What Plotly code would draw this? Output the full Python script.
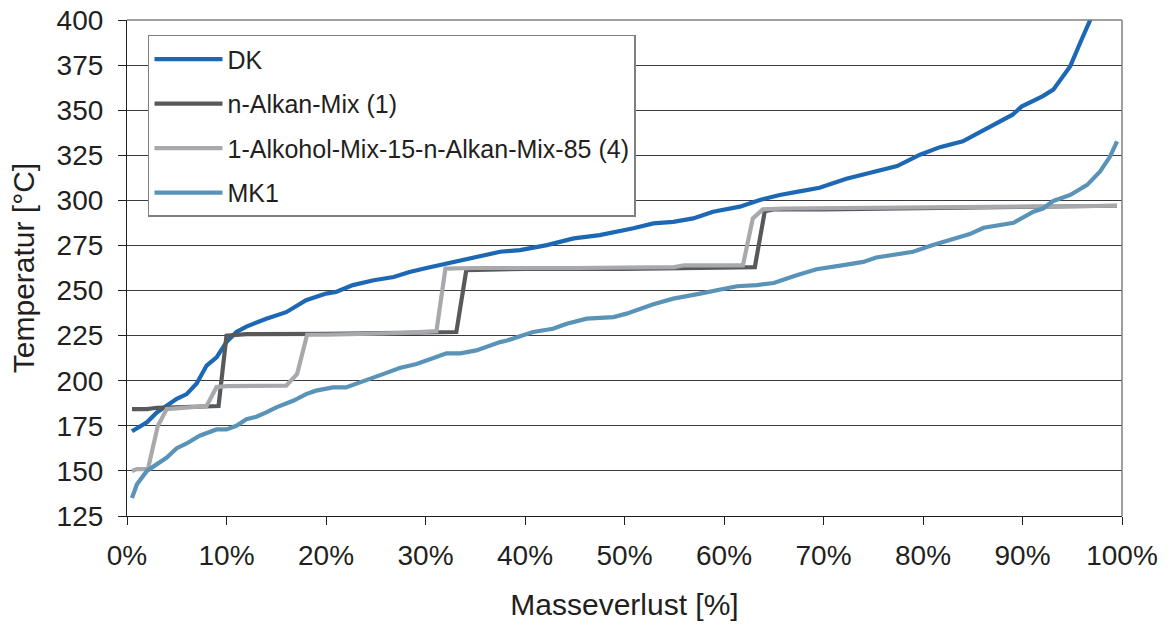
import plotly.graph_objects as go

# ---- data ----
dk_x = [0.5, 2, 3, 4, 5, 6, 7, 8, 9, 10, 11, 12, 14, 16, 18, 20, 21, 22.7, 24.8, 26.8,
        28.4, 30.1, 32.1, 34.1, 36.1, 37.5, 39.5, 42.2, 44.9, 47.5, 50.9, 52.9, 54.9, 56.9,
        58.9, 61.6, 63.6, 65.6, 67.6, 69.6, 72.3, 75.7, 77.4, 79.7, 81.7, 84, 86.4, 89, 89.9,
        91, 92, 93.1, 94.8, 95.8, 96.8, 97.6]
dk_y = [172, 177, 182.4, 186, 190, 192.6, 198.5, 208.4, 213, 221.4, 227, 230, 234.4, 238,
        244.6, 248.3, 249.2, 253, 255.7, 257.5, 260.3, 262.5, 265, 267.3, 269.5, 271.5, 272.4,
        275.2, 278.9, 280.7, 284.5, 287.2, 288.1, 290, 293.7, 296.5, 300.2, 303, 305, 307,
        312, 317, 319, 325.3, 329.5, 332.7, 340, 347.5, 352, 355, 357.7, 361.4, 374.4, 387.4,
        399.4, 410]

alkan_x = [0.5, 2, 3, 9, 9.2, 10, 12, 20, 32, 33.1, 34.1, 40, 50, 55, 62.9, 63.1, 64.1, 65,
           70, 78, 90, 99.5]
alkan_y = [184.3, 184.3, 185, 185.5, 186, 225, 225.8, 226, 226.5, 227, 261.3, 262, 262,
           262.5, 263, 263, 294, 295, 295, 295.5, 296, 297]

alk_x = [0.5, 1, 2.1, 3.1, 4, 8, 9, 10, 16, 17.1, 18.1, 20, 28, 31.1, 32, 35, 45, 55, 56,
         61.9, 62.9, 63.9, 66, 75, 85, 99.5]
alk_y = [150, 151, 151, 175, 184.3, 186, 196.5, 197, 197.3, 203.8, 225.5, 225.5, 226.5,
         227.5, 262.2, 262.5, 262.5, 263, 264, 264, 290, 295, 295.5, 296, 296.5, 297]

mk_x = [0.5, 1, 2, 3, 4, 5, 6, 7.3, 9, 10, 11, 12, 13, 14, 15, 16.7, 18, 19, 20.7, 22,
        24, 25.8, 27.4, 29.1, 30.8, 32.1, 33.5, 35.1, 37.5, 38.2, 40.8, 42.8, 44.2, 46.2,
        48.9, 50.2, 52.9, 54.9, 57.6, 59.6, 61.3, 63.3, 65, 67.3, 69.3, 71.7, 74, 75.3, 77.3,
        79, 81, 83.1, 84.7, 86.1, 89.1, 91.1, 92.1, 93.1, 94.8, 96.5, 97.8, 98.8, 99.5]
mk_y = [135, 142.6, 150, 153.7, 157.4, 162.6, 165.2, 169.5, 173, 173, 175, 178.7, 180,
        182.4, 185.2, 188.9, 192.6, 194.5, 196.3, 196.3, 200, 203.8, 207.1, 209.3, 212.6,
        215.2, 215.2, 216.8, 221.4, 222.3, 227, 228.8, 231.6, 234.4, 235.3, 237.2, 242.4,
        245.5, 248.3, 250.2, 252.4, 253, 254.2, 258.5, 261.8, 263.8, 265.9, 268.3, 270.2,
        271.5, 275.2, 278.9, 281.3, 284.8, 287.6, 293.7, 295.6, 299.7, 303, 308.6, 316,
        324.3, 332.7]

names = ["DK", "n-Alkan-Mix (1)", "1-Alkohol-Mix-15-n-Alkan-Mix-85 (4)", "MK1"]
colors = ["#1C68B4", "#58595B", "#A7A9AC", "#5A93B8"]

x_ticks = list(range(0, 101, 10))
x_tick_labels = [f"{v}%" for v in x_ticks]
y_ticks = list(range(125, 401, 25))

FONT = "Liberation Sans, Arial, sans-serif"
TXT = "#231F20"

fig = go.Figure()
for i, (xs, ys) in enumerate([(dk_x, dk_y), (alkan_x, alkan_y), (alk_x, alk_y), (mk_x, mk_y)]):
    fig.add_trace(go.Scatter(
        x=xs, y=ys, mode="lines", name=names[i], legendgroup=f"g{i}",
        line=dict(color=colors[i], width=4.2),
    ))

fig.update_layout(
    width=1169, height=628,
    margin=dict(l=127, r=47, t=20, b=112, autoexpand=False),
    paper_bgcolor="white", plot_bgcolor="white",
    font=dict(family=FONT, color=TXT, size=28),
    showlegend=True,
    legend=dict(
        x=0.0211, y=0.97, xanchor="left", yanchor="top",
        bgcolor="white", bordercolor="#808080", borderwidth=1.5,
        font=dict(size=25, family=FONT, color=TXT),
        tracegroupgap=9, itemwidth=68,
    ),
)

fig.update_xaxes(
    range=[0, 100], tickvals=x_ticks, ticktext=x_tick_labels,
    showgrid=False, zeroline=False,
    showline=True, linecolor="#231F20", linewidth=1.2,
    ticks="outside", ticklen=8, tickcolor="#231F20", tickwidth=1.2,
    tickfont=dict(size=28, family=FONT, color=TXT), ticklabelstandoff=6,
    title=dict(text="Masseverlust [%]", font=dict(size=30, family=FONT, color=TXT), standoff=24),
)
fig.update_yaxes(
    range=[125, 400], tickvals=y_ticks,
    showgrid=True, gridcolor="#3C3C3C", gridwidth=1,
    zeroline=False,
    showline=True, linecolor="#231F20", linewidth=1.2,
    ticks="outside", ticklen=8, tickcolor="#231F20", tickwidth=1.2,
    tickfont=dict(size=28, family=FONT, color=TXT), ticklabelstandoff=9,
    title=dict(text="Temperatur [°C]", font=dict(size=30, family=FONT, color=TXT), standoff=13),
)

# plot-area frame on top and right (light grey as in the reference)
fig.add_shape(type="line", xref="x domain", yref="y domain", x0=1, x1=1, y0=0, y1=1,
              line=dict(color="#808080", width=1.5))
fig.add_shape(type="line", xref="x domain", yref="y domain", x0=0, x1=1, y0=1, y1=1,
              line=dict(color="#808080", width=1.5))

fig.write_html("out.html", config={"displayModeBar": False},
               post_script="document.body.style.margin='0';")
